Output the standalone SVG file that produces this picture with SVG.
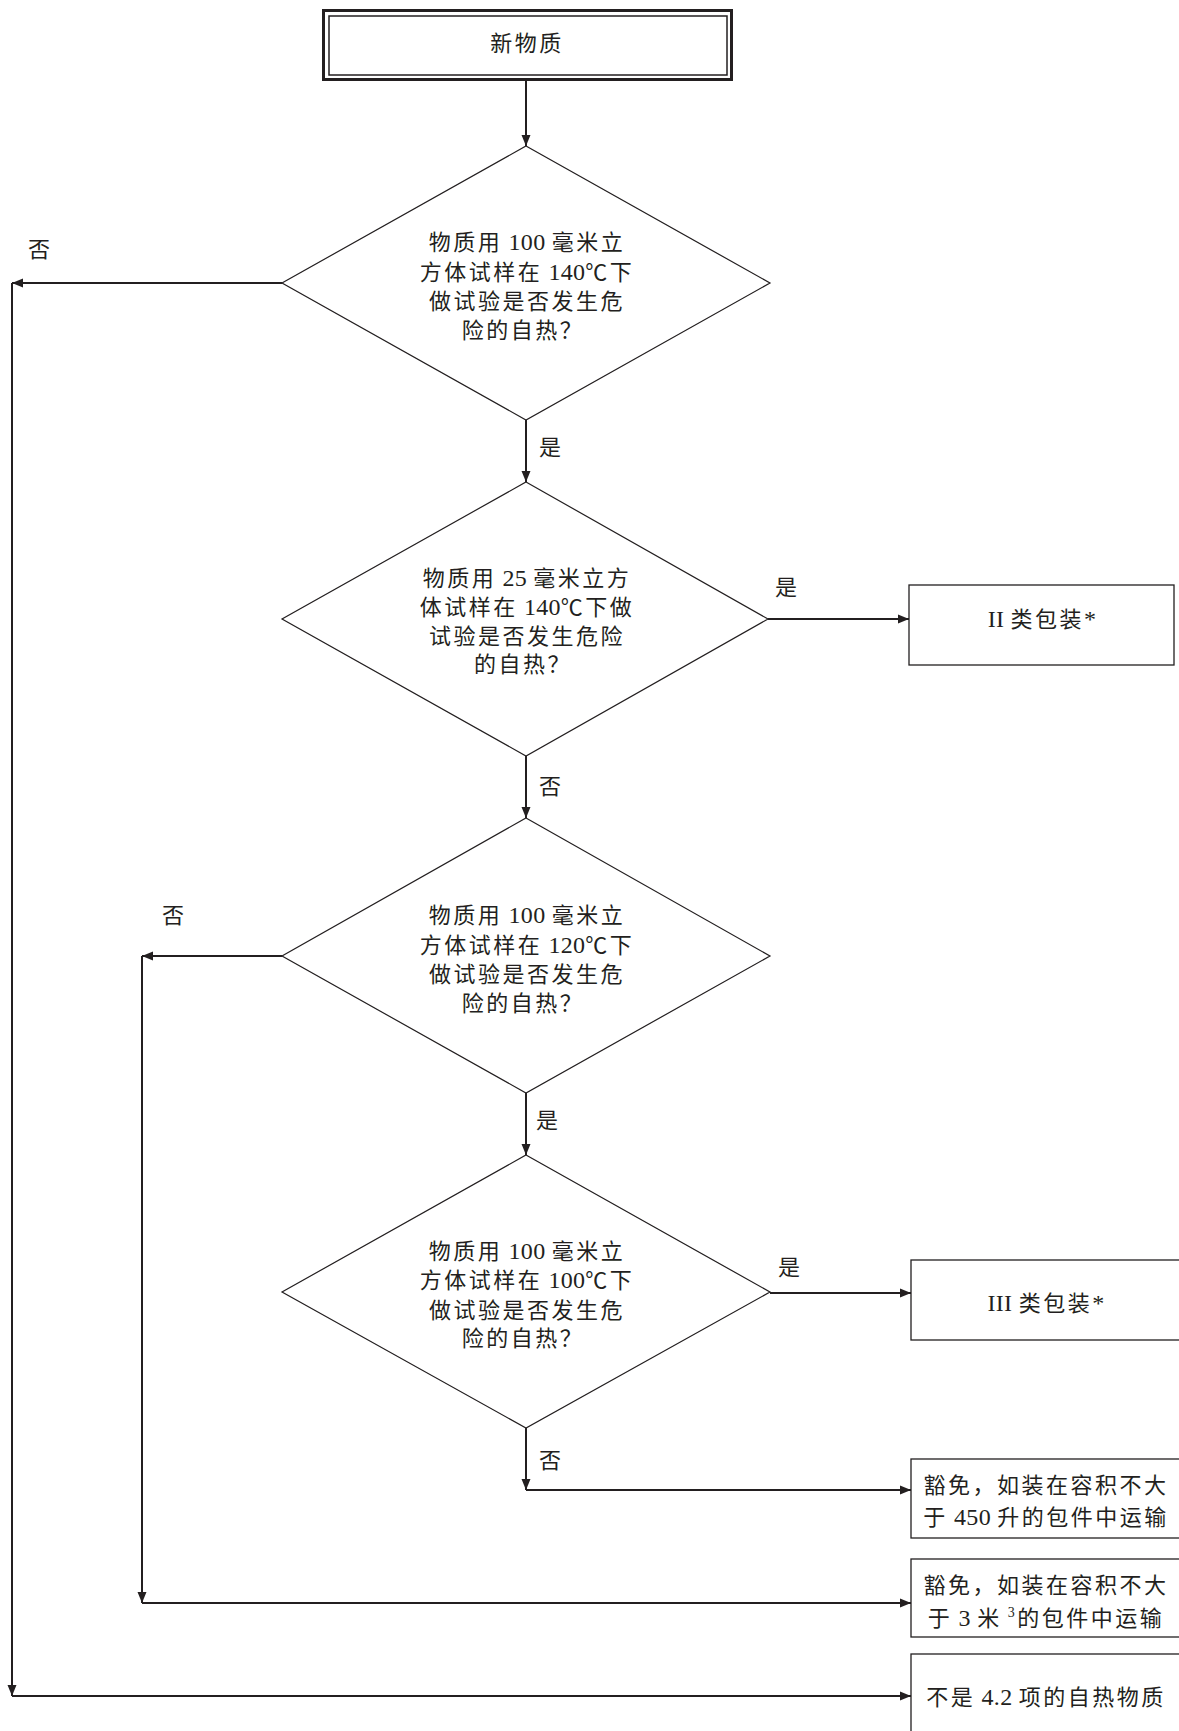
<svg xmlns="http://www.w3.org/2000/svg" width="1179" height="1731" viewBox="0 0 1179 1731">
<style>
.t{font-family:'Liberation Serif','Noto Sans CJK SC',serif;font-size:22px;fill:#231f20;letter-spacing:2.5px}
.l{font-size:24px;letter-spacing:0.3px}
.m{text-anchor:middle}
.d{fill:#fff;stroke:#231f20;stroke-width:1.2}
.b{fill:#fff;stroke:#231f20;stroke-width:1.3}
.c{stroke:#231f20;stroke-width:2;fill:none;marker-end:url(#ah)}
</style>
<defs>
<marker id="ah" markerUnits="userSpaceOnUse" markerWidth="12" markerHeight="10" refX="11" refY="5" orient="auto">
<path d="M0,0.5 L11,5 L0,9.5 z" fill="#231f20"/>
</marker>
</defs>
<rect width="1179" height="1731" fill="#fff"/>

<g id="connectors">
<line class="c" x1="526" y1="81" x2="526" y2="146"/>
<line class="c" x1="526" y1="420" x2="526" y2="482"/>
<line class="c" x1="768" y1="619" x2="909" y2="619"/>
<line class="c" x1="526" y1="756" x2="526" y2="818"/>
<line class="c" x1="526" y1="1093" x2="526" y2="1155"/>
<line class="c" x1="770" y1="1293" x2="911" y2="1293"/>
<line class="c" x1="526" y1="1428" x2="526" y2="1490"/>
<line class="c" x1="526" y1="1490" x2="911" y2="1490"/>
<line class="c" x1="282" y1="956" x2="142" y2="956"/>
<line class="c" x1="142" y1="956" x2="142" y2="1603"/>
<line class="c" x1="142" y1="1603" x2="911" y2="1603"/>
<line class="c" x1="282" y1="283" x2="12" y2="283"/>
<line class="c" x1="12" y1="283" x2="12" y2="1696"/>
<line class="c" x1="12" y1="1696" x2="911" y2="1696"/>
<text class="t" x="28" y="257">否</text>
<text class="t" x="539" y="455">是</text>
<text class="t" x="775" y="595">是</text>
<text class="t" x="539" y="794">否</text>
<text class="t" x="162" y="923">否</text>
<text class="t" x="536" y="1128">是</text>
<text class="t" x="778" y="1275">是</text>
<text class="t" x="539" y="1468">否</text>
</g>

<g id="start">
<rect x="323.5" y="10.5" width="408" height="69" fill="#fff" stroke="#231f20" stroke-width="3"/>
<rect x="329" y="16" width="398" height="59" fill="none" stroke="#231f20" stroke-width="1.5"/>
<text class="t m" x="527" y="51">新物质</text>
</g>

<g id="d1">
<polygon class="d" points="526,146 770,283 526,420 282,283"/>
<text class="t m" x="527" y="250">物质用<tspan class="l"> 100 </tspan>毫米立</text>
<text class="t m" x="527" y="280">方体试样在<tspan class="l"> 140</tspan>℃下</text>
<text class="t m" x="527" y="309">做试验是否发生危</text>
<text class="t m" x="523" y="338">险的自热？</text>
</g>

<g id="d2">
<polygon class="d" points="526,482 768,619 526,756 282,619"/>
<text class="t m" x="527" y="586">物质用<tspan class="l"> 25 </tspan>毫米立方</text>
<text class="t m" x="527" y="615">体试样在<tspan class="l"> 140</tspan>℃下做</text>
<text class="t m" x="527" y="644">试验是否发生危险</text>
<text class="t m" x="523" y="672">的自热？</text>
</g>

<g id="d3">
<polygon class="d" points="526,818 770,956 526,1093 282,956"/>
<text class="t m" x="527" y="923">物质用<tspan class="l"> 100 </tspan>毫米立</text>
<text class="t m" x="527" y="953">方体试样在<tspan class="l"> 120</tspan>℃下</text>
<text class="t m" x="527" y="982">做试验是否发生危</text>
<text class="t m" x="523" y="1011">险的自热？</text>
</g>

<g id="d4">
<polygon class="d" points="526,1155 770,1292 526,1428 282,1292"/>
<text class="t m" x="527" y="1259">物质用<tspan class="l"> 100 </tspan>毫米立</text>
<text class="t m" x="527" y="1288">方体试样在<tspan class="l"> 100</tspan>℃下</text>
<text class="t m" x="527" y="1318">做试验是否发生危</text>
<text class="t m" x="523" y="1346">险的自热？</text>
</g>

<g id="pg2">
<rect class="b" x="909" y="585" width="265" height="80"/>
<text class="t m" x="1042" y="627"><tspan class="l">II </tspan>类包装<tspan class="l">*</tspan></text>
</g>

<g id="pg3">
<rect class="b" x="911" y="1260" width="275" height="80"/>
<text class="t m" x="1046" y="1311"><tspan class="l">III </tspan>类包装<tspan class="l">*</tspan></text>
</g>

<g id="ex450">
<rect class="b" x="911" y="1459" width="275" height="79"/>
<text class="t m" x="1046" y="1493">豁免，如装在容积不大</text>
<text class="t m" x="1046" y="1525">于<tspan class="l"> 450 </tspan>升的包件中运输</text>
</g>

<g id="ex3">
<rect class="b" x="911" y="1559" width="275" height="78"/>
<text class="t m" x="1046" y="1593">豁免，如装在容积不大</text>
<text class="t m" x="1046" y="1626">于<tspan class="l"> 3 </tspan>米<tspan font-size="14" dy="-9"> 3</tspan><tspan dy="9">的包件中运输</tspan></text>
</g>

<g id="not42">
<rect class="b" x="911" y="1654" width="275" height="90"/>
<text class="t m" x="1046" y="1705">不是<tspan class="l"> 4.2 </tspan>项的自热物质</text>
</g>
</svg>
